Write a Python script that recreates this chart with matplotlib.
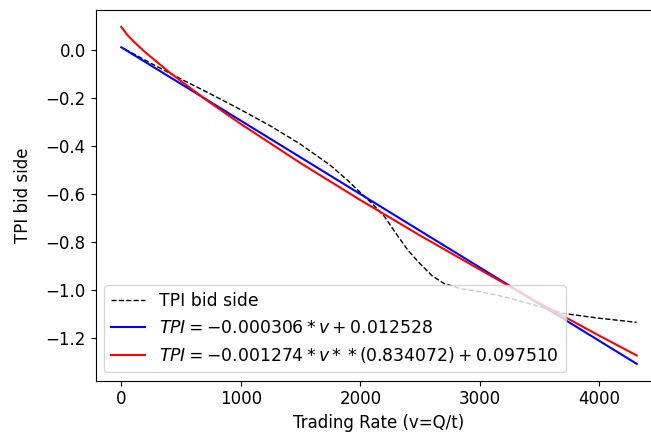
import matplotlib
matplotlib.use("Agg")
import matplotlib.pyplot as plt

plt.rcParams["font.size"] = 12

v_obs = [30, 250, 500, 750, 1000, 1250, 1500, 1750, 1900, 2000, 2100, 2200, 2300,
         2400, 2500, 2600, 2700, 2850, 3000, 3200, 3500, 3700, 4000, 4312]
tpi_obs = [0.005, -0.055, -0.12, -0.183, -0.248, -0.316, -0.392, -0.48, -0.545, -0.593,
           -0.640, -0.692, -0.765, -0.835, -0.89, -0.94, -0.972, -0.995, -1.006, -1.027,
           -1.068, -1.097, -1.117, -1.134]

# Linear fit line
v_lin = [0, 4312]
tpi_lin = [0.0125, -1.307]

# Power fit curve
v_pow = [0, 50, 100, 200, 400, 700, 1000, 1500, 2000, 2500, 3000, 3500, 4000, 4312]
tpi_pow = [0.0975, 0.0642, 0.0382, -0.0082, -0.0910, -0.2033, -0.3073, -0.4705,
           -0.6244, -0.7722, -0.9141, -1.0546, -1.1899, -1.272]

label_obs = "TPI bid side"
label_lin = r"$TPI = -0.000306*v + 0.012528$"
label_pow = r"$TPI = -0.001274*v**(0.834072) + 0.097510$"

fig = plt.figure(figsize=(6.51, 4.37), dpi=100)
ax = fig.add_axes([95.5 / 651, (437 - 380.7) / 437, 567 / 651, 370.7 / 437])

ax.plot(v_obs, tpi_obs, "k--", lw=1, label=label_obs)
ax.plot(v_lin, tpi_lin, color="b", lw=1.5, label=label_lin)
ax.plot(v_pow, tpi_pow, color="r", lw=1.5, label=label_pow)

ax.set_xlabel("Trading Rate (v=Q/t)")
ax.set_ylabel("TPI bid side", labelpad=10)
ax.set_xticks([0, 1000, 2000, 3000, 4000])
ax.legend(loc="lower left", fontsize=12.4)

fig.savefig("out.png", dpi=100)
